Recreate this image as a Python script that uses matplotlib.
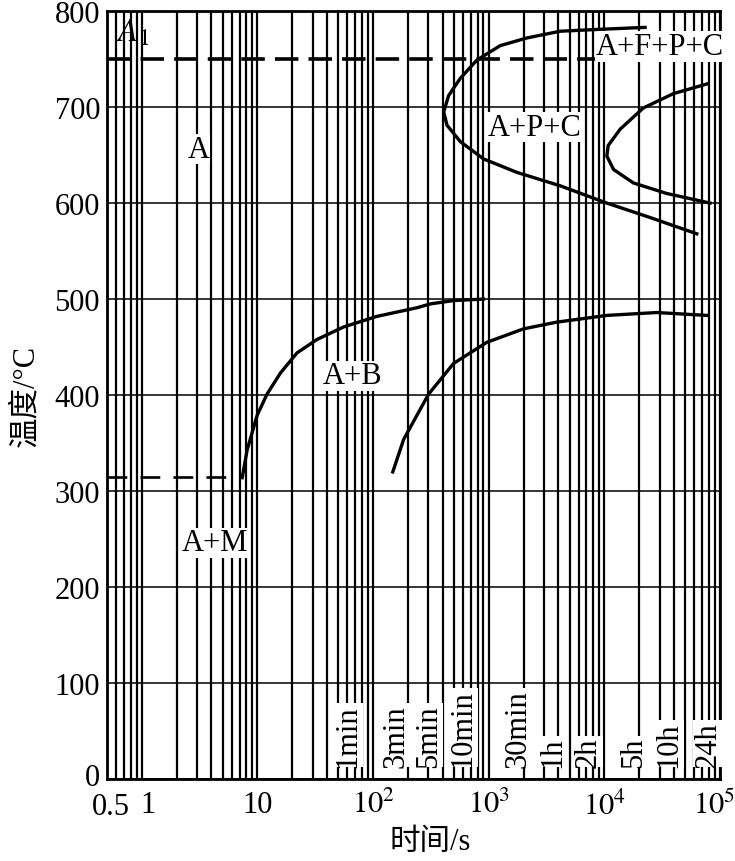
import numpy as np
import matplotlib
matplotlib.use("Agg")
import matplotlib.pyplot as plt
import matplotlib.transforms as mtransforms
from matplotlib.ticker import FixedLocator, LogLocator, NullFormatter

plt.rcParams['font.family'] = ['Liberation Serif', 'Noto Sans CJK SC']
plt.rcParams['mathtext.fontset'] = 'stix'

# A1 and Ms temperatures
a1_temp = 750
ms_temp = 315

# pearlite start curve (s, degC)
p_start_t = [22500, 9190, 4150, 2140, 1257, 791, 568, 450, 408, 436, 568, 902,
             1750, 4150, 10500, 24800, 63000]
p_start_T = [783, 781, 779, 772, 764, 749, 730, 712, 695, 681, 664, 646,
             632, 618, 600, 585, 568]

# pearlite finish curve
p_end_t = [76700, 39500, 21700, 13700, 10800, 10500, 12000, 17800, 34600, 82000]
p_end_T = [724, 714, 699, 677, 660, 649, 635, 621, 610, 600]

# bainite start curve
b_start_t = [7.38, 8.15, 9.94, 12.1, 15.8, 22.0, 32.8, 55.7, 108, 240, 313, 500, 902]
b_start_T = [314, 343, 379, 401, 423, 444, 458, 471, 482, 491, 495, 498.5, 500]

# bainite finish curve
b_end_t = [148, 184, 302, 497, 964, 2000, 3880, 10500, 28400, 76700]
b_end_T = [320, 354, 401, 433, 455, 469, 476, 483, 486, 483]

x_ticks = [0.5, 1, 10, 100, 1000, 10000, 100000]
x_labels = ['0.5', '1', '10', r'$10^2$', r'$10^3$', r'$10^4$', r'$10^5$']
y_ticks = [0, 100, 200, 300, 400, 500, 600, 700, 800]

time_marks = [60, 180, 300, 600, 1800, 3600, 7200, 18000, 36000, 86400]
time_names = ['1min', '3min', '5min', '10min', '30min', '1h', '2h', '5h', '10h', '24h']

# region labels (time s, temperature degC)
regions = ['A', 'A+P+C', 'A+F+P+C', 'A+B', 'A+M']
region_t = [3.1, 2500, 30000, 66, 4.3]
region_T = [656, 679, 763, 420, 246]

fs = 22
fig = plt.figure(figsize=(7.35, 8.62), dpi=100)
ax = fig.add_axes([0.1456, 0.095, 0.834, 0.891])

ax.set_xscale('log')
ax.set_xlim(0.5, 1e5)
ax.set_ylim(0, 800)

ax.xaxis.set_major_locator(FixedLocator(x_ticks))
ax.set_xticklabels(x_labels, fontsize=fs)
ax.xaxis.set_minor_locator(LogLocator(base=10, subs=np.arange(2, 10)))
ax.xaxis.set_minor_formatter(NullFormatter())
ax.set_yticks(y_ticks)
ax.set_yticklabels([str(v) for v in y_ticks], fontsize=fs)
ax.tick_params(which='both', length=0)
ax.tick_params(axis='x', pad=8)
ax.tick_params(axis='y', pad=5)


def shift(artist, dx_px, dy_px=0):
    artist.set_transform(artist.get_transform()
                         + mtransforms.ScaledTranslation(dx_px / 100, dy_px / 100,
                                                         fig.dpi_scale_trans))


# nudge crowded tick labels like in the original
xtl = ax.get_xticklabels()
shift(xtl[0], 4, -2)
shift(xtl[1], 6)
shift(xtl[-1], -6)
shift(ax.get_yticklabels()[0], 0, 5)

ax.grid(axis='x', which='both', color='black', lw=1.6, zorder=1)
ax.grid(axis='y', which='major', color='black', lw=1.1, zorder=1)
ax.set_axisbelow(True)
for s in ax.spines.values():
    s.set_linewidth(2.0)

# A1 line and Ms line
ax.axhline(a1_temp, color='black', lw=2.6, dashes=(6.5, 2.8), zorder=3)
ax.plot([0.5, b_start_t[0]], [ms_temp, ms_temp], color='black', lw=1.9,
        dashes=(7.5, 5), zorder=3)

lw = 2.4
ax.plot(p_start_t, p_start_T, color='black', lw=lw, zorder=5)
ax.plot(p_end_t, p_end_T, color='black', lw=lw, zorder=5)
ax.plot(b_start_t, b_start_T, color='black', lw=lw, zorder=5)
ax.plot(b_end_t, b_end_T, color='black', lw=lw, zorder=5)

box = dict(facecolor='white', edgecolor='none', pad=0.5)
ax.text(0.6, 778, r'$A_1$', fontsize=fs + 2, ha='left', va='center', zorder=4)
for name, t, T in zip(regions, region_t, region_T):
    ax.text(t, T, name, fontsize=fs, ha='center', va='center', bbox=box, zorder=4)

for t, name in zip(time_marks, time_names):
    txt = ax.text(t, 13, name, fontsize=fs, rotation=90, ha='center', va='bottom',
                  bbox=dict(facecolor='white', edgecolor='none', pad=0.5), zorder=4)
    if name == '3min':
        shift(txt, -7)
    if name == '24h':
        shift(txt, -5)

ax.set_xlabel('时间/s', fontsize=fs)
ax.xaxis.set_label_coords(0.527, -0.062)
ax.set_ylabel('温度/°C', fontsize=fs, labelpad=10)

fig.savefig('out.png', dpi=100)
